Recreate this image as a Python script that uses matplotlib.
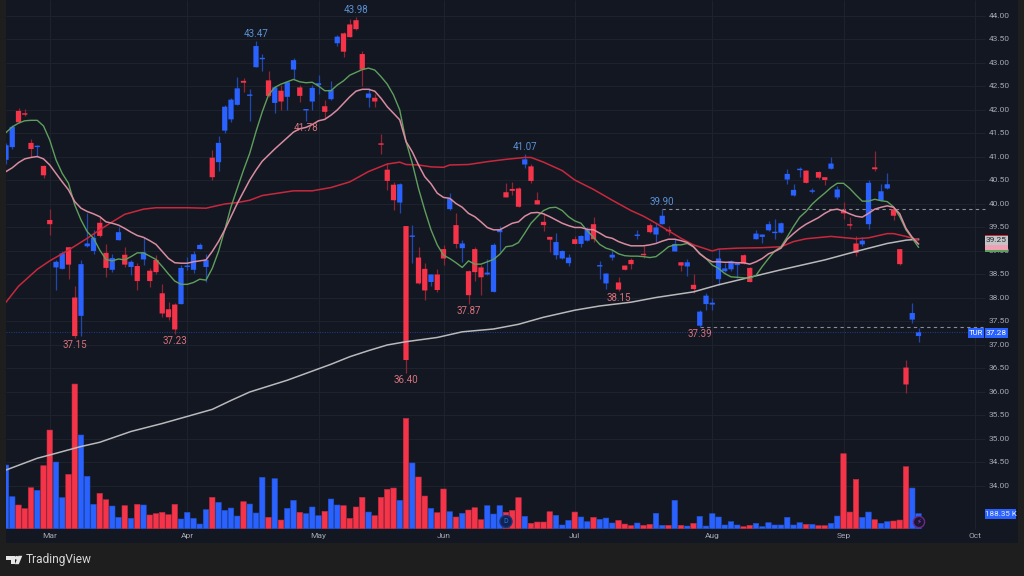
import matplotlib
matplotlib.use("Agg")
import matplotlib.pyplot as plt
from matplotlib.patches import Circle, Polygon, Rectangle

plt.rcParams['font.family'] = ['Roboto', 'DejaVu Sans']

# daily candles, oldest first
opens = [40.94, 41.21, 41.98, 41.93, 41.30, 41.21, 40.81, 39.66, 38.65, 38.62,
         39.08, 38.01, 37.62, 39.10, 39.00, 39.60, 38.96, 38.60, 39.23, 38.92,
         38.66, 38.68, 38.82, 38.58, 38.81, 38.10, 37.76, 37.86, 37.87, 38.66,
         38.60, 39.04, 38.66, 40.985, 40.89, 41.56, 41.80, 42.11, 42.62, 42.30,
         42.91, 43.08, 42.63, 42.15, 42.41, 42.28, 42.86, 42.48, 41.99, 42.18,
         42.53, 42.08, 42.23, 43.42, 43.63, 43.82, 43.91, 43.19, 42.26, 42.26,
         41.27, 40.73, 40.41, 40.03, 39.53, 39.30, 38.86, 38.62, 38.34, 38.50,
         39.04, 39.89, 39.55, 39.06, 38.57, 39.04, 38.65, 38.50, 38.13, 39.40,
         40.25, 40.32, 40.33, 40.84, 40.80, 40.08, 39.62, 39.30, 38.91, 38.84,
         38.74, 39.25, 39.15, 39.22, 39.57, 38.67, 38.31, 38.86, 38.33, 38.69,
         38.81, 39.32, 38.92, 39.55, 39.35, 39.57, 39.44, 38.99, 38.76, 38.67,
         38.28, 37.41, 37.87, 37.86, 38.40, 38.57, 38.61, 38.70, 38.91, 38.64,
         39.25, 39.30, 39.44, 39.38, 39.39, 40.52, 40.18, 40.72, 40.71, 40.26,
         40.68, 40.57, 40.75, 40.14, 39.87, 39.55, 39.16, 39.14, 39.57, 40.78,
         40.07, 40.33, 39.89, 39.04, 36.52, 37.54, 37.19]
highs = [41.30, 41.67, 42.04, 42.03, 41.38, 41.26, 40.83, 39.89, 38.80, 38.99,
         39.09, 38.25, 38.81, 39.80, 39.45, 39.74, 39.15, 38.93, 39.52, 39.09,
         38.81, 38.74, 39.30, 38.63, 38.91, 38.30, 37.92, 37.90, 38.70, 38.88,
         38.99, 39.18, 38.94, 41.15, 41.45, 42.11, 42.25, 42.71, 42.67, 42.44,
         43.47, 43.19, 42.82, 42.50, 42.53, 42.60, 43.11, 42.53, 42.03, 42.53,
         42.74, 42.21, 42.62, 43.60, 43.65, 43.93, 43.98, 43.25, 42.46, 42.35,
         41.49, 40.88, 40.47, 40.44, 39.53, 39.55, 39.09, 38.75, 38.52, 38.62,
         39.13, 40.24, 39.80, 39.23, 38.60, 39.09, 38.70, 38.82, 39.16, 39.53,
         40.44, 40.47, 40.37, 41.07, 40.86, 40.25, 39.80, 39.30, 39.39, 39.02,
         38.94, 39.32, 39.34, 39.52, 39.72, 38.79, 38.54, 39.02, 38.44, 38.70,
         38.86, 39.45, 39.11, 39.60, 39.59, 39.90, 39.53, 39.27, 38.77, 38.84,
         38.52, 37.74, 38.10, 37.99, 39.04, 38.75, 38.81, 38.77, 38.94, 38.65,
         39.45, 39.36, 39.64, 39.68, 39.62, 40.74, 40.43, 40.78, 40.72, 40.33,
         40.70, 40.58, 40.99, 40.38, 40.05, 39.73, 39.32, 39.29, 40.51, 41.13,
         40.42, 40.65, 39.91, 39.04, 36.69, 37.90, 37.37]
lows = [40.85, 41.17, 41.72, 41.88, 41.00, 41.00, 40.55, 39.34, 38.18, 38.62,
        38.40, 37.15, 37.19, 39.09, 38.94, 39.30, 38.44, 38.56, 39.23, 38.65,
        38.49, 38.17, 38.70, 38.23, 38.51, 37.59, 37.53, 37.23, 37.87, 38.60,
        38.54, 39.04, 38.33, 40.50, 40.70, 41.52, 41.75, 42.11, 42.38, 41.77,
        42.91, 42.83, 42.28, 41.93, 42.01, 42.00, 42.65, 42.16, 41.77, 42.00,
        42.35, 41.82, 42.21, 43.36, 43.13, 43.55, 43.70, 42.50, 42.07, 42.06,
        41.06, 40.30, 39.87, 39.81, 36.40, 38.75, 38.30, 37.96, 38.25, 38.13,
        38.70, 39.87, 39.06, 38.77, 37.87, 38.37, 38.06, 38.49, 38.13, 38.98,
        40.14, 40.19, 39.93, 40.76, 40.44, 39.99, 39.43, 38.98, 38.84, 38.82,
        38.68, 39.15, 39.09, 39.21, 39.20, 38.40, 38.20, 38.81, 38.15, 38.59,
        38.62, 39.26, 38.86, 39.39, 39.20, 39.58, 39.33, 38.99, 38.57, 38.47,
        38.10, 37.39, 37.74, 37.74, 38.27, 38.56, 38.58, 38.43, 38.72, 38.33,
        39.25, 39.16, 39.43, 39.25, 39.38, 40.42, 40.18, 40.58, 40.44, 40.23,
        40.53, 40.40, 40.74, 40.10, 39.69, 39.46, 38.89, 39.11, 39.47, 40.71,
        40.06, 40.31, 39.65, 38.70, 35.97, 37.47, 37.06]
closes = [41.25, 41.64, 41.74, 41.90, 41.17, 41.23, 40.61, 39.57, 38.77, 38.95,
          38.71, 37.19, 38.72, 39.16, 39.28, 39.32, 38.64, 38.85, 39.40, 38.71,
          38.77, 38.36, 38.97, 38.36, 38.55, 37.67, 37.59, 37.33, 38.64, 38.68,
          38.93, 39.13, 38.81, 40.57, 41.30, 42.07, 42.22, 42.46, 42.58, 42.31,
          43.36, 43.10, 42.30, 42.48, 42.18, 42.59, 43.06, 42.30, 42.01, 42.47,
          42.57, 41.96, 42.43, 43.56, 43.24, 43.55, 43.72, 42.86, 42.35, 42.18,
          41.26, 40.49, 40.08, 40.42, 36.68, 39.32, 38.31, 38.16, 38.50, 38.17,
          38.84, 40.11, 39.15, 39.16, 38.06, 38.55, 38.44, 38.54, 39.13, 39.45,
          40.14, 40.28, 39.94, 40.95, 40.49, 39.99, 39.55, 39.24, 39.19, 39.00,
          38.86, 39.15, 39.32, 39.45, 39.25, 38.69, 38.52, 38.92, 38.18, 38.60,
          38.72, 39.34, 38.91, 39.40, 39.50, 39.75, 39.42, 39.15, 38.69, 38.76,
          38.19, 37.71, 38.05, 37.90, 38.84, 38.63, 38.78, 38.74, 38.73, 38.34,
          39.37, 39.35, 39.57, 39.41, 39.59, 40.64, 40.30, 40.74, 40.45, 40.29,
          40.56, 40.51, 40.86, 40.31, 39.80, 39.54, 38.96, 39.22, 40.45, 40.74,
          40.27, 40.42, 39.75, 38.72, 36.16, 37.68, 37.27]

# volume in thousands
volumes = [796, 400, 296, 250, 512, 479, 788, 1233, 833, 388, 679, 1808, 1171, 654, 304,
           442, 362, 283, 142, 288, 129, 304, 296, 171, 188, 204, 175, 304, 121, 204,
           129, 58, 238, 392, 329, 229, 258, 158, 338, 308, 196, 642, 142, 625, 108,
           254, 354, 204, 188, 271, 162, 217, 371, 296, 288, 129, 271, 392, 208, 162,
           392, 492, 508, 354, 1379, 821, 646, 408, 254, 200, 496, 212, 146, 192, 233,
           262, 112, 288, 183, 288, 204, 229, 388, 154, 67, 83, 83, 212, 167, 46,
           104, 208, 146, 88, 142, 117, 133, 71, 104, 58, 38, 71, 42, 54, 192,
           42, 42, 354, 42, 33, 67, 154, 33, 188, 146, 46, 88, 46, 25, 42, 67,
           25, 75, 46, 46, 142, 46, 75, 54, 54, 38, 38, 67, 158, 938, 208, 617,
           142, 208, 112, 67, 88, 96, 108, 775, 508, 188]

green_ma = [41.52, 41.64, 41.72, 41.77, 41.78, 41.78, 41.66, 41.36, 40.94, 40.65,
            40.44, 39.98, 39.66, 39.41, 39.27, 39.02, 38.82, 38.79, 38.83, 38.81,
            38.88, 38.96, 38.96, 38.89, 38.82, 38.67, 38.51, 38.36, 38.29, 38.29,
            38.33, 38.40, 38.38, 38.63, 38.99, 39.45, 39.94, 40.33, 40.72, 41.08,
            41.54, 41.96, 42.32, 42.48, 42.55, 42.60, 42.65, 42.60, 42.58, 42.59,
            42.51, 42.41, 42.41, 42.53, 42.62, 42.74, 42.80, 42.86, 42.89, 42.85,
            42.71, 42.55, 42.32, 42.00, 41.33, 40.87, 40.33, 39.87, 39.45, 39.13,
            38.91, 38.84, 38.75, 38.65, 38.79, 38.72, 38.72, 38.77, 38.82, 38.93,
            39.09, 39.11, 39.18, 39.38, 39.59, 39.73, 39.86, 39.92, 39.93, 39.86,
            39.73, 39.64, 39.59, 39.43, 39.29, 39.14, 39.06, 39.02, 38.94, 38.90,
            38.89, 38.89, 38.88, 38.86, 38.88, 38.98, 39.09, 39.13, 39.13, 39.16,
            39.09, 38.95, 38.84, 38.70, 38.63, 38.52, 38.45, 38.44, 38.43, 38.42,
            38.48, 38.67, 38.84, 39.00, 39.09, 39.30, 39.52, 39.72, 39.84, 40.00,
            40.12, 40.23, 40.35, 40.44, 40.44, 40.33, 40.19, 40.06, 40.06, 40.10,
            40.07, 40.05, 39.94, 39.73, 39.45, 39.27, 39.08]
pink_ma = [40.69, 40.77, 40.88, 40.96, 40.99, 41.01, 40.96, 40.83, 40.65, 40.47,
           40.30, 40.05, 39.91, 39.84, 39.79, 39.73, 39.62, 39.59, 39.55, 39.48,
           39.40, 39.33, 39.29, 39.22, 39.14, 38.99, 38.84, 38.75, 38.74, 38.74,
           38.77, 38.79, 38.81, 38.99, 39.20, 39.45, 39.73, 40.01, 40.26, 40.51,
           40.72, 40.91, 41.04, 41.17, 41.29, 41.41, 41.53, 41.60, 41.63, 41.69,
           41.77, 41.80, 41.89, 42.00, 42.14, 42.28, 42.40, 42.44, 42.44, 42.40,
           42.25, 42.07, 41.93, 41.79, 41.33, 41.11, 40.83, 40.58, 40.43, 40.23,
           40.14, 40.12, 40.01, 39.93, 39.80, 39.73, 39.62, 39.50, 39.45, 39.45,
           39.52, 39.59, 39.62, 39.74, 39.81, 39.82, 39.79, 39.73, 39.66, 39.59,
           39.54, 39.50, 39.50, 39.46, 39.45, 39.38, 39.30, 39.27, 39.20, 39.15,
           39.11, 39.11, 39.11, 39.13, 39.16, 39.21, 39.25, 39.25, 39.22, 39.18,
           39.09, 38.94, 38.84, 38.77, 38.77, 38.76, 38.76, 38.75, 38.75, 38.72,
           38.77, 38.84, 38.94, 38.99, 39.06, 39.25, 39.37, 39.48, 39.57, 39.64,
           39.71, 39.80, 39.87, 39.89, 39.85, 39.79, 39.74, 39.72, 39.80, 39.89,
           39.93, 39.96, 39.93, 39.79, 39.48, 39.29, 39.15]

red_bars = [0, 2, 5, 7, 10, 13, 15, 17, 19, 22, 24, 29, 32, 35, 37, 39, 41, 43, 46, 49,
            52, 55, 58, 61, 63, 64, 66, 68, 70, 71, 74, 77, 80, 83, 84, 86, 89, 91, 94,
            97, 100, 102, 104, 106, 108, 110, 113, 114, 117, 121, 124, 126, 128, 132,
            136, 138, 141, 142, 144, 146]
red_ma = [37.91, 38.25, 38.61, 38.79, 39.02, 39.27, 39.45, 39.62, 39.78, 39.89, 39.92,
          39.92, 39.91, 40.00, 40.03, 40.08, 40.18, 40.22, 40.28, 40.28, 40.35, 40.47,
          40.69, 40.85, 40.89, 40.84, 40.83, 40.79, 40.78, 40.83, 40.84, 40.90, 40.95,
          40.99, 40.99, 40.89, 40.71, 40.51, 40.31, 40.08, 39.86, 39.74, 39.59, 39.43,
          39.27, 39.13, 39.00, 39.04, 39.06, 39.07, 39.09, 39.20, 39.26, 39.31, 39.26,
          39.28, 39.37, 39.37, 39.31, 39.23]

white_bars = [0, 5, 7, 12, 15, 20, 25, 29, 33, 36, 39, 45, 52, 55, 58, 61, 64, 69, 73,
              78, 82, 86, 91, 95, 100, 104, 110, 114, 119, 124, 131, 136, 141, 144, 146]
white_ma = [34.34, 34.59, 34.66, 34.84, 34.93, 35.16, 35.33, 35.48, 35.63, 35.82, 36.00,
            36.25, 36.59, 36.75, 36.88, 37.00, 37.07, 37.16, 37.28, 37.34, 37.44, 37.59,
            37.74, 37.83, 37.91, 38.01, 38.13, 38.28, 38.44, 38.60, 38.81, 38.99, 39.16,
            39.23, 39.25]

month_bars = [7, 29, 50, 70, 91, 113, 134, 155]
month_names = ['Mar', 'Apr', 'May', 'Jun', 'Jul', 'Aug', 'Sep', 'Oct']
price_ticks = [34.0 + 0.5 * i for i in range(21)]

high_bars = [40, 56, 83, 105]
high_texts = ['43.47', '43.98', '41.07', '39.90']
low_bars = [11, 27, 48, 64, 74, 98, 111]
low_texts = ['37.15', '37.23', '41.78', '36.40', '37.87', '38.15', '37.39']
last_price = 37.28
last_volume = '188.35 K'

BG = '#131722'
OUTER = '#1e1e1e'
GRID = '#1e222d'
RED = '#f5344a'
BLUE = '#2962ff'
RED_WICK = '#8f2433'
BLUE_WICK = '#1f48b0'
AXIS_TEXT = '#a6a9b2'


def bar_colors():
    return [BLUE if c >= o else RED for o, c in zip(opens, closes)]


def price_axes(fig, rect, zorder):
    ax = fig.add_axes(rect, zorder=zorder)
    ax.set_xlim(-0.08, 161.92)
    ax.set_ylim(32.787, 44.34)
    ax.axis('off')
    return ax


def draw_grid(ax):
    right = 156.6
    ax.hlines(price_ticks, ax.get_xlim()[0], right, colors=GRID, linewidth=0.8)
    ax.vlines(month_bars, 33.09, ax.get_ylim()[1], colors=GRID, linewidth=0.8)


def draw_volume(ax):
    x = list(range(len(volumes)))
    colors = bar_colors()
    edges = ['#2450c8' if c == BLUE else '#b92f42' for c in colors]
    ax.bar(x, volumes, width=0.88, color=colors, edgecolor=edges, linewidth=0.4, snap=False)
    ax.set_xlim(-0.08, 161.92)
    # zero line sits 14 px above the frame bottom, 12.5K to the pixel
    ax.set_ylim(-179, 6609)
    ax.axis('off')


def draw_candles(ax):
    x = list(range(len(opens)))
    colors = bar_colors()
    wicks = [BLUE_WICK if c == BLUE else RED_WICK for c in colors]
    ax.vlines(x, lows, highs, colors=wicks, linewidth=0.9, zorder=3)
    tops = [max(o, c) for o, c in zip(opens, closes)]
    bottoms = [min(o, c) for o, c in zip(opens, closes)]
    heights = [max(t - b, 0.03) for t, b in zip(tops, bottoms)]
    ax.bar(x, heights, bottom=bottoms, width=0.84, color=colors, linewidth=0, zorder=4, snap=False)


def draw_lines(ax):
    x = list(range(len(green_ma)))
    ax.plot(white_bars, white_ma, color='#b9b9bb', linewidth=1.1, zorder=5)
    ax.plot(red_bars, red_ma, color='#c9283c', linewidth=1.1, zorder=5)
    ax.plot(x, green_ma, color='#5f9f5c', linewidth=1.0, zorder=5)
    ax.plot(x, pink_ma, color='#d98ca0', linewidth=1.1, zorder=5)


def draw_labels(ax):
    for bar, text in zip(high_bars, high_texts):
        ax.annotate(text, (bar, highs[bar]), xytext=(0, 1.4), textcoords='offset points',
                    ha='center', va='bottom', fontsize=7, color='#5b92d6', zorder=7)
    for bar, text in zip(low_bars, low_texts):
        ax.annotate(text, (bar, lows[bar]), xytext=(0, -1.6), textcoords='offset points',
                    ha='center', va='top', fontsize=7, color='#d9737c', zorder=7)


def draw_ticks(ax):
    for p in price_ticks:
        ax.text(158.9, p, f'{p:.2f}', ha='center', va='center', fontsize=6, color=AXIS_TEXT, zorder=6)
    for bar, name in zip(month_bars, month_names):
        ax.text(bar, 32.93, name, ha='center', va='center', fontsize=6, color=AXIS_TEXT, zorder=6)
    ax.hlines(last_price, ax.get_xlim()[0], 154.6, colors='#1f3f8f', linewidth=0.7,
              linestyles=(0, (1, 1.5)), zorder=2)
    ax.hlines(highs[105], 105, 156.6, colors='#8a8d96', linewidth=0.8,
              linestyles=(0, (3, 3)), zorder=2)
    ax.hlines(lows[111], 111, 156.3, colors='#8a8d96', linewidth=0.8,
              linestyles=(0, (3, 3)), zorder=2)


def draw_overlay(fig):
    # tags, logo and event badges, laid out in image pixels
    over = fig.add_axes([0, 0, 1, 1], zorder=10)
    over.set_xlim(0, 1024)
    over.set_ylim(576, 0)
    over.axis('off')

    # stacked moving average tags
    over.add_patch(Rectangle((985, 234.5), 23, 17.5, color='#c9283c', lw=0))
    over.add_patch(Rectangle((985, 247), 23, 5, color='#5f9f5c', lw=0))
    over.add_patch(Rectangle((985, 245), 23, 4.5, color='#f0a0b4', lw=0))
    over.add_patch(Rectangle((985, 235.5), 23, 9.5, color='#c4c4c6', lw=0))
    over.text(996.5, 240.3, '39.25', ha='center', va='center', fontsize=6, color='#20242e')

    # last price and last volume
    over.add_patch(Rectangle((968, 328), 16, 9.5, color=BLUE, lw=0))
    over.add_patch(Rectangle((985, 328), 23, 9.5, color=BLUE, lw=0))
    over.text(976, 332.8, 'TUR', ha='center', va='center', fontsize=5.6, color='white')
    over.text(996.5, 332.8, f'{last_price:.2f}', ha='center', va='center', fontsize=6, color='white')
    over.add_patch(Rectangle((985, 509), 31, 9.5, color=BLUE, lw=0))
    over.text(1000.5, 513.8, last_volume, ha='center', va='center', fontsize=5.8, color='#e8ecff')

    # dividend and earnings badges
    over.add_patch(Circle((506, 521.5), 6, facecolor='#10244f', edgecolor='#16357f', lw=1))
    over.text(506, 521.5, 'D', ha='center', va='center', fontsize=5, color='#2f6fe0')
    over.add_patch(Circle((919, 522), 5.6, facecolor='#1b1530', edgecolor='#6b2a86', lw=1))
    over.text(919, 522, '⚡', ha='center', va='center', fontsize=5, color='#a040c8',
              family=['DejaVu Sans'])

    # logo
    over.add_patch(Polygon([(6.3, 555.8), (14.5, 555.8), (14.5, 564.2), (10.5, 564.2),
                            (10.5, 559.8), (6.3, 559.8)], color='#e6e6e6', lw=0))
    over.add_patch(Circle((16.6, 557.8), 1.9, color='#e6e6e6', lw=0))
    over.add_patch(Polygon([(22.3, 555.8), (18.8, 564.2), (14.9, 564.2), (18.4, 555.8)],
                           color='#e6e6e6', lw=0))
    over.text(26, 560, 'TradingView', ha='left', va='center', fontsize=8.6, color='#d8d8d8',
              family=['Roboto'])


def main():
    fig = plt.figure(figsize=(10.24, 5.76), dpi=100, facecolor=OUTER)
    rect = [5.5 / 1024, 33 / 576, 1012.5 / 1024, 543 / 576]

    # grid sits under the volume bars, candles and lines above them
    ax_grid = price_axes(fig, rect, 0)
    ax_grid.axis('on')
    ax_grid.set_xticks([])
    ax_grid.set_yticks([])
    ax_grid.set_facecolor(BG)
    for spine in ax_grid.spines.values():
        spine.set_visible(False)
    draw_grid(ax_grid)

    ax_vol = fig.add_axes(rect, zorder=1)
    draw_volume(ax_vol)

    ax = price_axes(fig, rect, 2)
    draw_ticks(ax)
    draw_candles(ax)
    draw_lines(ax)
    draw_labels(ax)

    draw_overlay(fig)
    fig.savefig('out.png', dpi=100, facecolor=OUTER)


if __name__ == "__main__":
    main()
